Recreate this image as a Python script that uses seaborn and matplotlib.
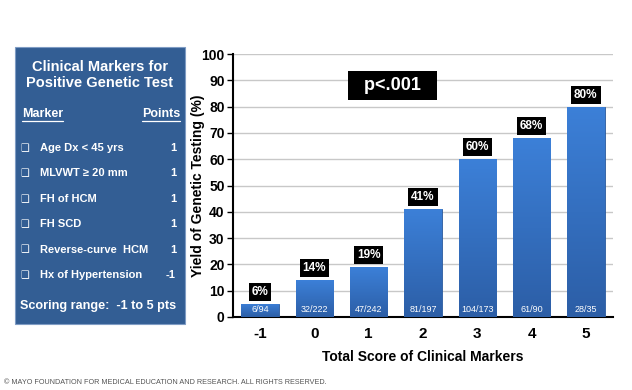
import numpy as np
import pandas as pd
import seaborn as sns
import matplotlib.pyplot as plt
from matplotlib.patches import Rectangle

scores = ["-1", "0", "1", "2", "3", "4", "5"]
yield_pct = [5, 14, 19, 41, 60, 68, 80]
pct_labels = ["6%", "14%", "19%", "41%", "60%", "68%", "80%"]
counts = ["6/94", "32/222", "47/242", "81/197", "104/173", "61/90", "28/35"]

markers = ["Age Dx < 45 yrs", "MLVWT \u2265 20 mm", "FH of HCM", "FH SCD",
           "Reverse-curve  HCM", "Hx of Hypertension"]
points = ["1", "1", "1", "1", "1", "-1"]

sns.set_theme(style="white")
plt.rcParams["font.family"] = ["Liberation Sans", "DejaVu Sans"]
plt.rcParams["font.weight"] = "bold"

df = pd.DataFrame({"score": scores, "yield": yield_pct})

fig = plt.figure(figsize=(6.32, 3.90), dpi=100)


def fy(py):
    return 1 - py / 390


def fx(px):
    return px / 632


# left panel (drawn first, behind everything)
fig.patches.append(Rectangle((fx(15), fy(324)), 170 / 632, 277 / 390,
                             transform=fig.transFigure, fc="#335e94", ec="#7f9cc4",
                             lw=0.8, zorder=0))

ax = fig.add_axes([fx(233), fy(317), 380 / 632, 263 / 390])
ax.patch.set_alpha(0)

sns.barplot(data=df, x="score", y="yield", color="#3470c4", width=0.69,
            saturation=1, edgecolor="#2a5a9e", linewidth=0.6, ax=ax, zorder=3)

# vertical gradient on each bar
grad = np.linspace(0, 1, 256).reshape(-1, 1)
cmap = sns.blend_palette(["#2c5ea6", "#3c80d8"], as_cmap=True)
for bar in ax.patches:
    x0, y0 = bar.get_x(), bar.get_y()
    w, h = bar.get_width(), bar.get_height()
    im = ax.imshow(grad, extent=[x0, x0 + w, y0, y0 + h], origin="lower",
                   cmap=cmap, aspect="auto", zorder=3.5)
    im.set_clip_path(bar)

ax.set_xlim(-0.5, 6.5)
ax.set_ylim(0, 100)
ax.set_yticks(range(0, 101, 10))
ax.yaxis.grid(True, color="#c8c8c8", linewidth=1)
ax.set_axisbelow(True)
for s in ["top", "right"]:
    ax.spines[s].set_visible(False)
ax.spines["left"].set_color("black")
ax.spines["left"].set_linewidth(1.5)
ax.spines["bottom"].set_color("black")
ax.spines["bottom"].set_linewidth(1.5)
ax.tick_params(axis="y", left=True, length=4, width=1, labelsize=10, pad=2, color="black")
ax.tick_params(axis="x", bottom=False, labelsize=11, pad=1)
for lab in ax.get_xticklabels() + ax.get_yticklabels():
    lab.set_fontweight("bold")
    lab.set_color("black")

ax.set_xlabel("Total Score of Clinical Markers", fontsize=10, fontweight="bold",
              color="black")
ax.xaxis.set_label_coords(0.5, -33 / 263)
ax.set_ylabel("Yield of Genetic Testing (%)", fontsize=10, fontweight="bold",
              color="black")
ax.yaxis.set_label_coords(-28 / 380, 0.5)

for i, (v, p, c) in enumerate(zip(yield_pct, pct_labels, counts)):
    ax.text(i, v + 2.2, p, ha="center", va="bottom", color="white", fontsize=8.5,
            fontweight="bold", zorder=5,
            bbox=dict(boxstyle="square,pad=0.25", fc="black", ec="none"))
    ax.text(i, 1.2, c, ha="center", va="bottom", color="white", fontsize=6.5,
            fontweight="normal", zorder=5)

ax.text(2.44, 88, "  p<.001  ", ha="center", va="center", color="white", fontsize=13,
        fontweight="bold", zorder=5,
        bbox=dict(boxstyle="square,pad=0.35", fc="black", ec="none"))

fig.text(fx(100), fy(75), "Clinical Markers for\nPositive Genetic Test", ha="center",
         va="center", color="white", fontsize=10.5, fontweight="bold", linespacing=1.15)
fig.text(fx(22), fy(114), "Marker", ha="left", va="center", color="white", fontsize=9,
         fontweight="bold")
fig.text(fx(180), fy(114), "Points", ha="right", va="center", color="white", fontsize=9,
         fontweight="bold")
fig.lines.append(plt.Line2D([fx(22), fx(63)], [fy(121), fy(121)], transform=fig.transFigure,
                            color="white", lw=0.9))
fig.lines.append(plt.Line2D([fx(142), fx(180)], [fy(121), fy(121)], transform=fig.transFigure,
                            color="white", lw=0.9))
for k, (m, pt) in enumerate(zip(markers, points)):
    yy = fy(148 + k * 25.4)
    fig.text(fx(20), yy, "\u2751", ha="left", va="center", color="white", fontsize=7,
             family=["DejaVu Sans"])
    fig.text(fx(40), yy, m, ha="left", va="center", color="white", fontsize=8,
             fontweight="bold")
    fig.text(fx(176), yy, pt, ha="right", va="center", color="white", fontsize=8,
             fontweight="bold")
fig.text(fx(98), fy(306), "Scoring range:  -1 to 5 pts", ha="center", va="center",
         color="white", fontsize=9.1, fontweight="bold")

fig.text(fx(4), fy(383), "\u00a9 MAYO FOUNDATION FOR MEDICAL EDUCATION AND RESEARCH. ALL RIGHTS RESERVED.",
         ha="left", va="center", color="#555555", fontsize=5.2, fontweight="normal")

fig.savefig("out.png", dpi=100, facecolor="white")
